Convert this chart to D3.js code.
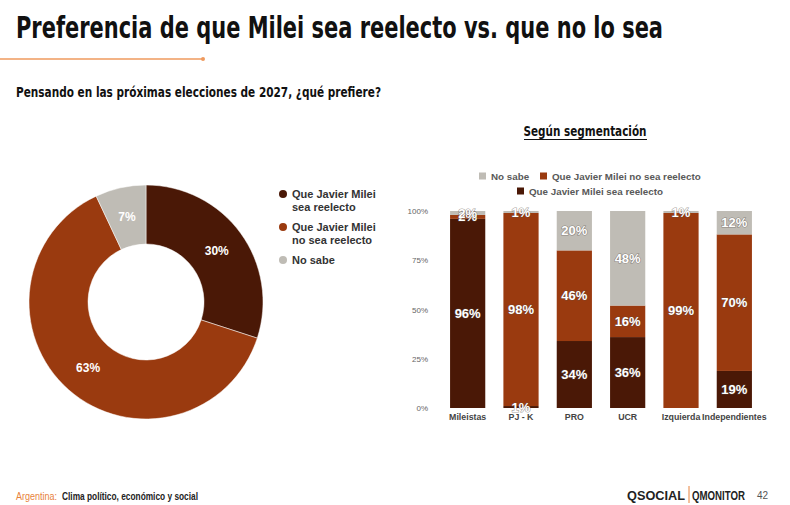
<!DOCTYPE html>
<html>
<head>
<meta charset="utf-8">
<script src="https://cdn.jsdelivr.net/npm/d3@7"></script>
<style>
  body { margin: 0; background: #fff; }
  svg { display: block; }
  text { font-family: "Liberation Sans", Arial, sans-serif; }
  .cond { font-family: "DejaVu Sans Condensed", "DejaVu Sans", sans-serif; font-weight: bold; }
</style>
</head>
<body>
<div id="chart"></div>
<script>
// donut data
var donutLabels = ["Que Javier Milei sea reelecto", "Que Javier Milei no sea reelecto", "No sabe"];
var donutValues = [30, 63, 7];

// segment data (stacked bars, bottom to top)
var segments = ["Mileistas", "PJ - K", "PRO", "UCR", "Izquierda", "Independientes"];
var seaReelecto = [96, 1, 34, 36, 0, 19];
var noSeaReelecto = [2, 98, 46, 16, 99, 70];
var noSabe = [2, 1, 20, 48, 1, 12];
var yTicks = [0, 0.25, 0.5, 0.75, 1];

var colors = ["#4a1806", "#9a3a0f", "#bfbcb5"];

var width = 790, height = 505;

var svg = d3.select("#chart")
            .append("svg")
            .attr("width", width)
            .attr("height", height);

// header
svg.append("text")
   .attr("class", "cond")
   .attr("x", 16).attr("y", 38)
   .attr("font-size", 31)
   .attr("textLength", 647)
   .attr("lengthAdjust", "spacingAndGlyphs")
   .attr("fill", "#111")
   .text("Preferencia de que Milei sea reelecto vs. que no lo sea");

svg.append("line")
   .attr("x1", 0).attr("x2", 203)
   .attr("y1", 59).attr("y2", 59)
   .attr("stroke", "#ef9a5e").attr("stroke-width", 1.5);
svg.append("circle")
   .attr("cx", 203).attr("cy", 59).attr("r", 2)
   .attr("fill", "#ef9a5e");

svg.append("text")
   .attr("class", "cond")
   .attr("x", 16).attr("y", 97)
   .attr("font-size", 14)
   .attr("textLength", 365)
   .attr("lengthAdjust", "spacingAndGlyphs")
   .attr("fill", "#111")
   .text("Pensando en las próximas elecciones de 2027, ¿qué prefiere?");

// ---- donut ----
var donut = svg.append("g")
    .attr("transform", "translate(146,302)");

var pie = d3.pie().sort(null).value(function(d) { return d; });
var arc = d3.arc().innerRadius(58).outerRadius(117);

var arcs = pie(donutValues);

donut.selectAll("path")
     .data(arcs)
     .enter()
     .append("path")
     .attr("d", arc)
     .attr("fill", function(d, i) { return colors[i]; })
     .attr("stroke", "#fff")
     .attr("stroke-width", 0.5);

donut.selectAll("text")
     .data(arcs)
     .enter()
     .append("text")
     .attr("transform", function(d) { return "translate(" + arc.centroid(d) + ")"; })
     .attr("text-anchor", "middle")
     .attr("dy", "0.35em")
     .attr("font-size", 12)
     .attr("font-weight", "bold")
     .attr("fill", "#fff")
     .text(function(d) { return d.data + "%"; });

// donut legend
var donutLegend = [
  ["Que Javier Milei", "sea reelecto"],
  ["Que Javier Milei", "no sea reelecto"],
  ["No sabe"]
];
var legY = d3.scalePoint().domain([0, 1, 2]).range([194, 260]);

var dl = svg.append("g").selectAll("g")
    .data(donutLegend)
    .enter()
    .append("g")
    .attr("transform", function(d, i) { return "translate(283," + legY(i) + ")"; });

dl.append("circle")
  .attr("r", 4)
  .attr("fill", function(d, i) { return colors[i]; });

dl.append("text")
  .attr("x", 9)
  .attr("font-size", 11)
  .attr("font-weight", "bold")
  .attr("fill", "#333")
  .selectAll("tspan")
  .data(function(d) { return d; })
  .enter()
  .append("tspan")
  .attr("x", 9)
  .attr("y", function(d, i) { return 4 + i * 13; })
  .text(function(d) { return d; });

// ---- stacked bars ----
svg.append("text")
   .attr("class", "cond")
   .attr("x", 585).attr("y", 136)
   .attr("text-anchor", "middle")
   .attr("font-size", 14)
   .attr("textLength", 123)
   .attr("lengthAdjust", "spacingAndGlyphs")
   .attr("fill", "#111")
   .text("Según segmentación");
svg.append("line")
   .attr("x1", 524).attr("x2", 647)
   .attr("y1", 139.5).attr("y2", 139.5)
   .attr("stroke", "#111").attr("stroke-width", 1.2);

var table = segments.map(function(s, i) {
  return { segment: s, sea: seaReelecto[i], nosea: noSeaReelecto[i], nosabe: noSabe[i] };
});
var keys = ["sea", "nosea", "nosabe"];

var stack = d3.stack().keys(keys).offset(d3.stackOffsetExpand);
var series = stack(table);

var x = d3.scaleBand()
    .domain(segments)
    .range([441, 761])
    .paddingInner(0.34)
    .paddingOuter(0.17);

var y = d3.scaleLinear()
    .domain([0, 1])
    .range([408, 211]);

var yAxis = svg.append("g")
    .attr("transform", "translate(432,0)")
    .call(d3.axisLeft(y).tickValues(yTicks).tickFormat(d3.format(".0%")).tickSize(0).tickPadding(4));
yAxis.select(".domain").remove();
yAxis.selectAll("text")
     .attr("font-family", "Liberation Sans, Arial, sans-serif")
     .attr("font-size", 8)
     .attr("fill", "#666");

var xAxis = svg.append("g")
    .attr("transform", "translate(0,411)")
    .call(d3.axisBottom(x).tickSize(0).tickPadding(3));
xAxis.select(".domain").remove();
xAxis.selectAll("text")
     .attr("font-family", "Liberation Sans, Arial, sans-serif")
     .attr("font-size", 8.8)
     .attr("font-weight", "bold")
     .attr("fill", "#444");

var layers = svg.append("g").selectAll("g")
    .data(series)
    .enter()
    .append("g")
    .attr("fill", function(d, i) { return colors[i]; });

layers.selectAll("rect")
      .data(function(d) { return d; })
      .enter()
      .append("rect")
      .attr("x", function(d) { return x(d.data.segment); })
      .attr("y", function(d) { return y(d[1]); })
      .attr("height", function(d) { return y(d[0]) - y(d[1]); })
      .attr("width", x.bandwidth());

var labels = svg.append("g").selectAll("g")
    .data(series)
    .enter()
    .append("g");

labels.selectAll("text")
      .data(function(s) {
        return s.filter(function(d) { return d.data[s.key] > 0; })
                .map(function(d) { return { d: d, v: d.data[s.key] }; });
      })
      .enter()
      .append("text")
      .attr("x", function(o) { return x(o.d.data.segment) + x.bandwidth() / 2; })
      .attr("y", function(o) { return y((o.d[0] + o.d[1]) / 2); })
      .attr("dy", "0.35em")
      .attr("text-anchor", "middle")
      .attr("font-size", 13)
      .attr("font-weight", "bold")
      .attr("fill", "#fff")
      .attr("stroke", "rgba(90,80,75,0.55)")
      .attr("stroke-width", 1.2)
      .attr("paint-order", "stroke")
      .text(function(o) { return o.v + "%"; });

// bar legend
var barLegend = [
  { key: 2, label: "No sabe", x: 479, y: 176 },
  { key: 1, label: "Que Javier Milei no sea reelecto", x: 540, y: 176 },
  { key: 0, label: "Que Javier Milei sea reelecto", x: 517, y: 191 }
];
var bl = svg.append("g").selectAll("g")
    .data(barLegend)
    .enter()
    .append("g")
    .attr("transform", function(d) { return "translate(" + d.x + "," + d.y + ")"; });
bl.append("rect")
  .attr("x", 0).attr("y", -3.5)
  .attr("width", 7).attr("height", 7)
  .attr("fill", function(d) { return colors[d.key]; });
bl.append("text")
  .attr("x", 12).attr("y", 3.5)
  .attr("font-size", 9.8)
  .attr("font-weight", "bold")
  .attr("fill", "#595959")
  .text(function(d) { return d.label; });

// ---- footer ----
svg.append("text")
   .attr("x", 16).attr("y", 500)
   .attr("font-family", "Liberation Serif, serif")
   .attr("font-size", 11)
   .attr("textLength", 41)
   .attr("lengthAdjust", "spacingAndGlyphs")
   .attr("fill", "#e8823c")
   .text("Argentina:");
svg.append("text")
   .attr("x", 62).attr("y", 500)
   .attr("font-family", "Liberation Serif, serif")
   .attr("font-size", 11)
   .attr("font-weight", "bold")
   .attr("textLength", 136)
   .attr("lengthAdjust", "spacingAndGlyphs")
   .attr("fill", "#222")
   .text("Clima político, económico y social");

svg.append("text")
   .attr("x", 627).attr("y", 500)
   .attr("font-size", 13)
   .attr("font-weight", "bold")
   .attr("textLength", 58)
   .attr("lengthAdjust", "spacingAndGlyphs")
   .attr("fill", "#222")
   .text("QSOCIAL");
svg.append("line")
   .attr("x1", 689).attr("x2", 689)
   .attr("y1", 486).attr("y2", 503)
   .attr("stroke", "#e8823c").attr("stroke-width", 1);
svg.append("text")
   .attr("x", 692).attr("y", 500)
   .attr("font-size", 12)
   .attr("font-weight", "bold")
   .attr("textLength", 53)
   .attr("lengthAdjust", "spacingAndGlyphs")
   .attr("fill", "#222")
   .text("QMONITOR");
svg.append("text")
   .attr("x", 757).attr("y", 499)
   .attr("font-size", 10)
   .attr("fill", "#555")
   .text("42");
</script>
</body>
</html>
